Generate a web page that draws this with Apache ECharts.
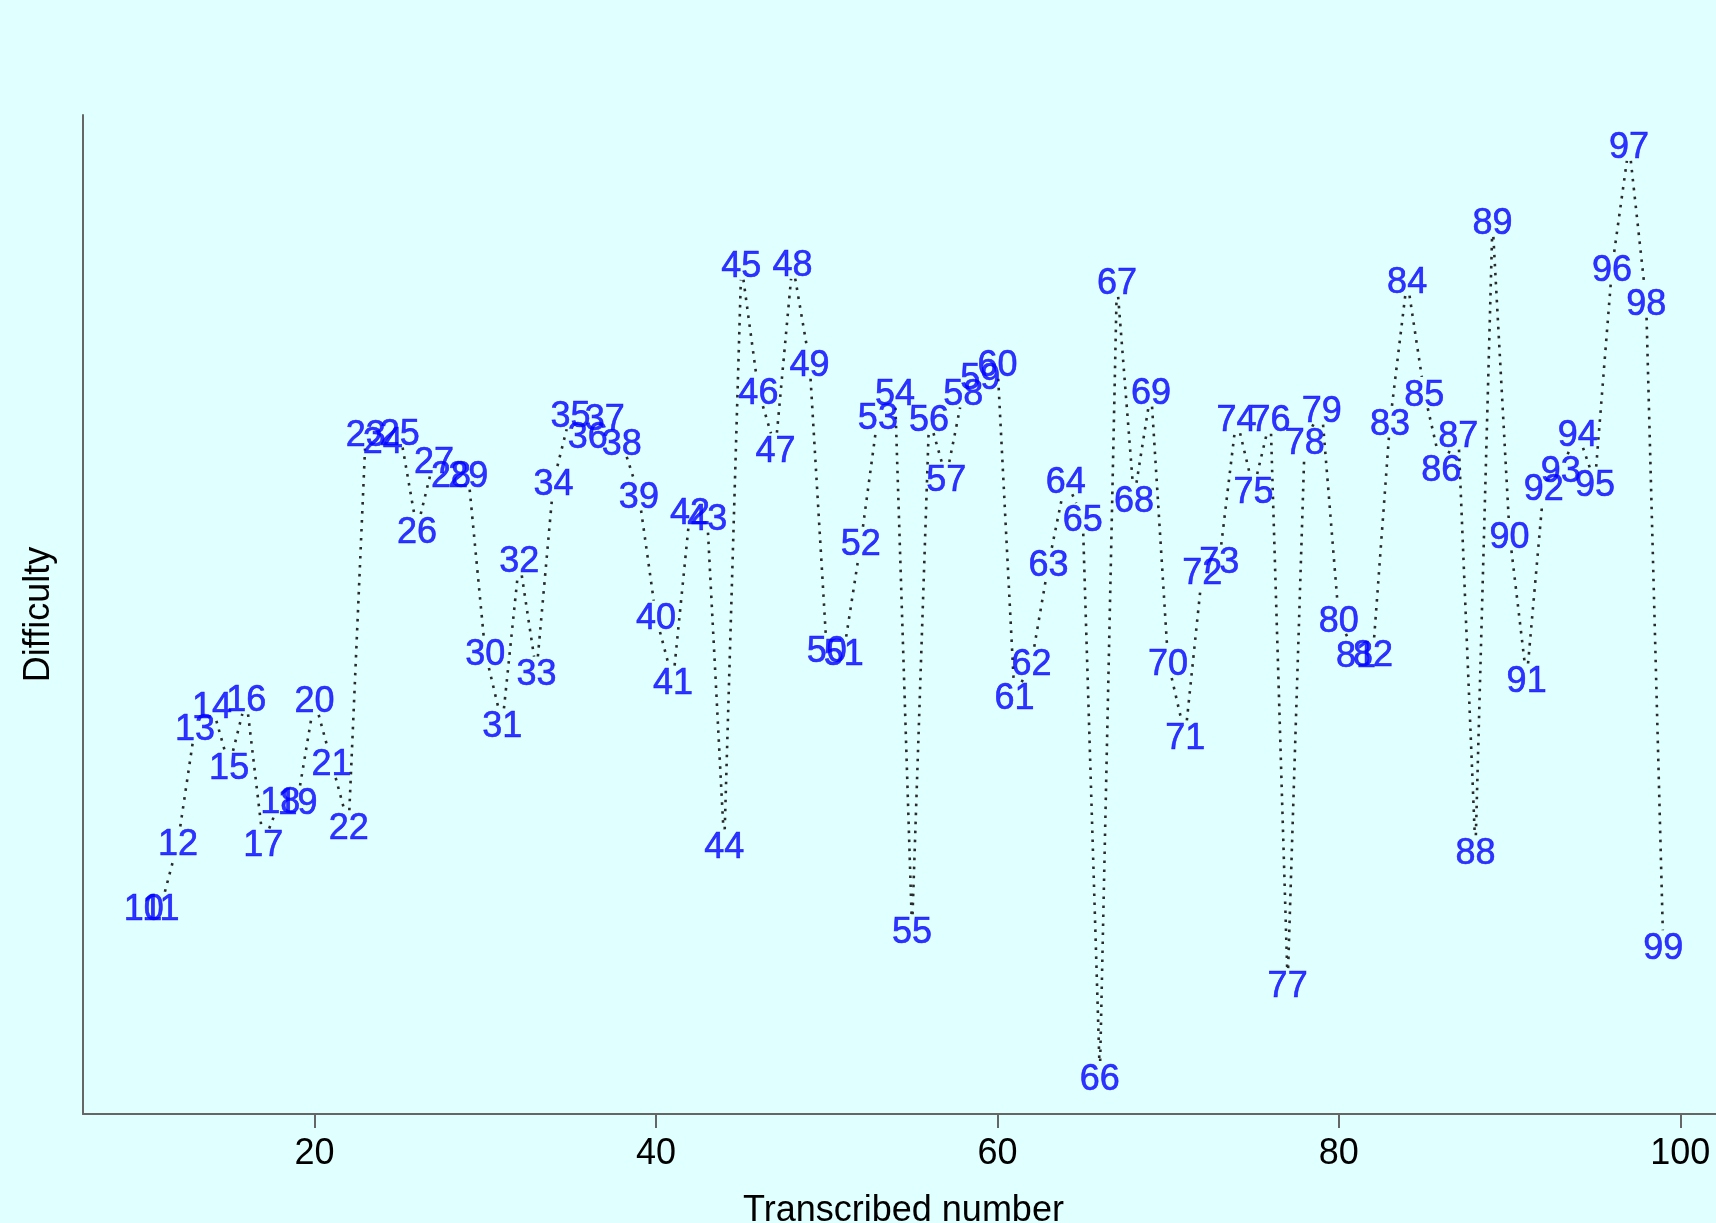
<!DOCTYPE html>
<html>
<head>
<meta charset="utf-8">
<script src="https://cdn.jsdelivr.net/npm/echarts@6/dist/echarts.min.js"></script>
<style>
html,body{margin:0;padding:0;background:#E0FFFF;overflow:hidden;}
#chart{width:1716px;height:1223px;}
</style>
</head>
<body>
<div id="chart"></div>
<script>
// Transcribed numbers (x) and difficulty (y, arbitrary units)
var transcribed = [10,11,12,13,14,15,16,17,18,19,20,21,22,23,24,25,26,27,28,29,30,31,32,33,34,35,36,37,38,39,40,41,42,43,44,45,46,47,48,49,50,51,52,53,54,55,56,57,58,59,60,61,62,63,64,65,66,67,68,69,70,71,72,73,74,75,76,77,78,79,80,81,82,83,84,85,86,87,88,89,90,91,92,93,94,95,96,97,98,99];
var difficulty = [20.7,20.7,27.2,38.7,40.9,34.8,41.6,27.1,31.4,31.3,41.5,35.2,28.8,68.2,67.5,68.3,58.5,65.5,64.1,64.1,46.2,39.0,55.5,44.2,63.3,70.1,68.0,69.8,67.3,62.0,49.8,43.3,60.4,59.8,26.9,85.1,72.4,66.6,85.2,75.2,46.5,46.2,57.2,69.9,72.3,18.4,69.7,63.7,72.3,73.9,75.2,41.8,45.2,55.1,63.5,59.7,3.7,83.4,61.6,72.4,45.2,37.8,54.3,55.4,69.7,62.5,69.7,13.0,67.4,70.6,49.5,46.0,46.1,69.3,83.5,72.2,64.7,68.1,26.3,89.4,58.0,43.5,62.8,64.6,68.2,63.2,84.7,97.0,81.3,16.8];
var xTicks = [20,40,60,80,100];

var points = transcribed.map(function(x,i){ return [x, difficulty[i]]; });
var segments = [];
for (var i = 0; i < transcribed.length - 1; i++) {
  segments.push([transcribed[i], difficulty[i], transcribed[i+1], difficulty[i+1]]);
}

var FONT = "'Liberation Sans', Arial, Helvetica, sans-serif";
var GAP = 16;

var chart = echarts.init(document.getElementById('chart'), null, {renderer:'canvas'});
chart.setOption({
  backgroundColor: '#E0FFFF',
  animation: false,
  grid: {left: 83, top: 115, bottom: 109, right: -8, containLabel: false, outerBoundsMode: 'none'},
  xAxis: {
    type: 'value', min: 6.44, max: 102.56,
    name: 'Transcribed number', nameLocation: 'middle', nameGap: 79,
    nameTextStyle: {fontFamily: FONT, fontSize: 36, color: '#000'},
    axisLine: {show: true, onZero: false, lineStyle: {color: '#666', width: 2}},
    axisTick: {show: true, customValues: xTicks, length: 14, lineStyle: {color: '#666', width: 2}},
    axisLabel: {show: true, customValues: xTicks, margin: 22, fontFamily: FONT, fontSize: 36, color: '#000'},
    splitLine: {show: false}
  },
  yAxis: {
    type: 'value', min: 0, max: 100,
    name: 'Difficulty', nameLocation: 'middle', nameGap: 26, nameRotate: 90,
    nameTextStyle: {fontFamily: FONT, fontSize: 36, color: '#000'},
    axisLine: {show: true, onZero: false, lineStyle: {color: '#666', width: 2}},
    axisTick: {show: false},
    axisLabel: {show: false},
    splitLine: {show: false}
  },
  series: [
    {
      type: 'custom',
      silent: true,
      data: segments,
      encode: {x: [0, 2], y: [1, 3]},
      renderItem: function(params, api) {
        var p1 = api.coord([api.value(0), api.value(1)]);
        var p2 = api.coord([api.value(2), api.value(3)]);
        var dx = p2[0] - p1[0], dy = p2[1] - p1[1];
        var len = Math.sqrt(dx*dx + dy*dy);
        if (len <= 2*GAP) return null;
        var ux = dx/len, uy = dy/len;
        return {
          type: 'line',
          shape: {x1: p1[0] + ux*GAP, y1: p1[1] + uy*GAP, x2: p2[0] - ux*GAP, y2: p2[1] - uy*GAP},
          style: {stroke: '#2a2a2a', lineWidth: 2.6, lineDash: [2.6, 6.4]}
        };
      },
      z: 1
    },
    {
      type: 'scatter',
      silent: true,
      data: points,
      symbolSize: 1,
      itemStyle: {color: 'rgba(0,0,0,0)'},
      label: {
        show: true, position: 'inside', offset: [0, 3],
        formatter: function(p){ return String(p.value[0]); },
        fontFamily: FONT, fontSize: 36, color: '#0000FF',
        textBorderColor: '#0000FF', textBorderWidth: 0.6
      },
      z: 2
    }
  ]
});
</script>
</body>
</html>
